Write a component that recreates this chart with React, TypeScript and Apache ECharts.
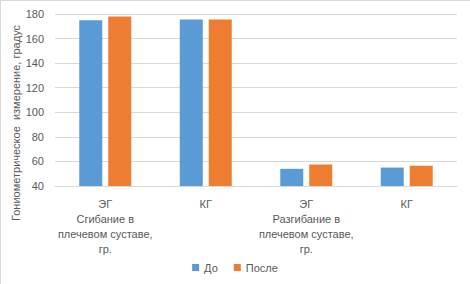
import React, { useEffect, useRef } from "react";
import * as echarts from "echarts";

const categories = [
  "ЭГ\nСгибание в\nплечевом суставе,\nгр.",
  "КГ",
  "ЭГ\nРазгибание в\nплечевом суставе,\nгр.",
  "КГ",
];
const seriesNames = ["До", "После"];
const beforeValues = [175, 175.5, 54, 55];
const afterValues = [178, 175.5, 57.5, 56.5];
const yMin = 40;
const yMax = 180;
const yInterval = 20;
const yAxisTitle = "Гониометрическое  измерение, градус";

const FONT = "'Liberation Sans', Arial, sans-serif";
const TEXT = "#595959";

export default function App() {
  const ref = useRef<HTMLDivElement>(null);
  useEffect(() => {
    document.body.style.margin = "0";
    if (!ref.current) return;
    const chart = echarts.init(ref.current, null, { renderer: "svg" });
    chart.setOption({
      animation: false,
      backgroundColor: "#ffffff",
      textStyle: { fontFamily: FONT },
      grid: { left: 55, right: 13, top: 14, height: 172, containLabel: false },
      legend: {
        data: seriesNames,
        bottom: 6,
        left: "center",
        itemWidth: 7,
        itemHeight: 7,
        itemGap: 16,
        icon: "rect",
        textStyle: { color: TEXT, fontSize: 11, fontFamily: FONT },
      },
      xAxis: {
        type: "category",
        data: categories,
        axisLine: { lineStyle: { color: "#d9d9d9", width: 1 } },
        axisTick: { show: false },
        axisLabel: {
          interval: 0,
          color: TEXT,
          fontSize: 11,
          lineHeight: 15,
          margin: 10,
          fontFamily: FONT,
        },
      },
      yAxis: {
        type: "value",
        min: yMin,
        max: yMax,
        interval: yInterval,
        axisLine: { show: false },
        axisTick: { show: false },
        splitLine: { lineStyle: { color: "#d9d9d9", width: 1 } },
        axisLabel: { color: TEXT, fontSize: 11, margin: 11, fontFamily: FONT },
      },
      graphic: [
        {
          type: "rect",
          shape: { x: 0.5, y: 0.5, width: 480, height: 300 },
          style: { fill: "none", stroke: "#d9d9d9", lineWidth: 1 },
          silent: true,
        },
        {
          type: "text",
          x: 16,
          y: 123,
          rotation: Math.PI / 2,
          style: {
            text: yAxisTitle,
            fill: TEXT,
            font: `11px ${FONT}`,
            align: "center",
            verticalAlign: "middle",
          },
        },
      ],
      series: [
        {
          name: seriesNames[0],
          type: "bar",
          data: beforeValues,
          barWidth: 23,
          barGap: "26%",
          itemStyle: { color: "#5b9bd5" },
        },
        {
          name: seriesNames[1],
          type: "bar",
          data: afterValues,
          barWidth: 23,
          barGap: "26%",
          itemStyle: { color: "#ed7d31" },
        },
      ],
    });
    return () => chart.dispose();
  }, []);
  return <div ref={ref} style={{ width: 470, height: 284 }} />;
}
